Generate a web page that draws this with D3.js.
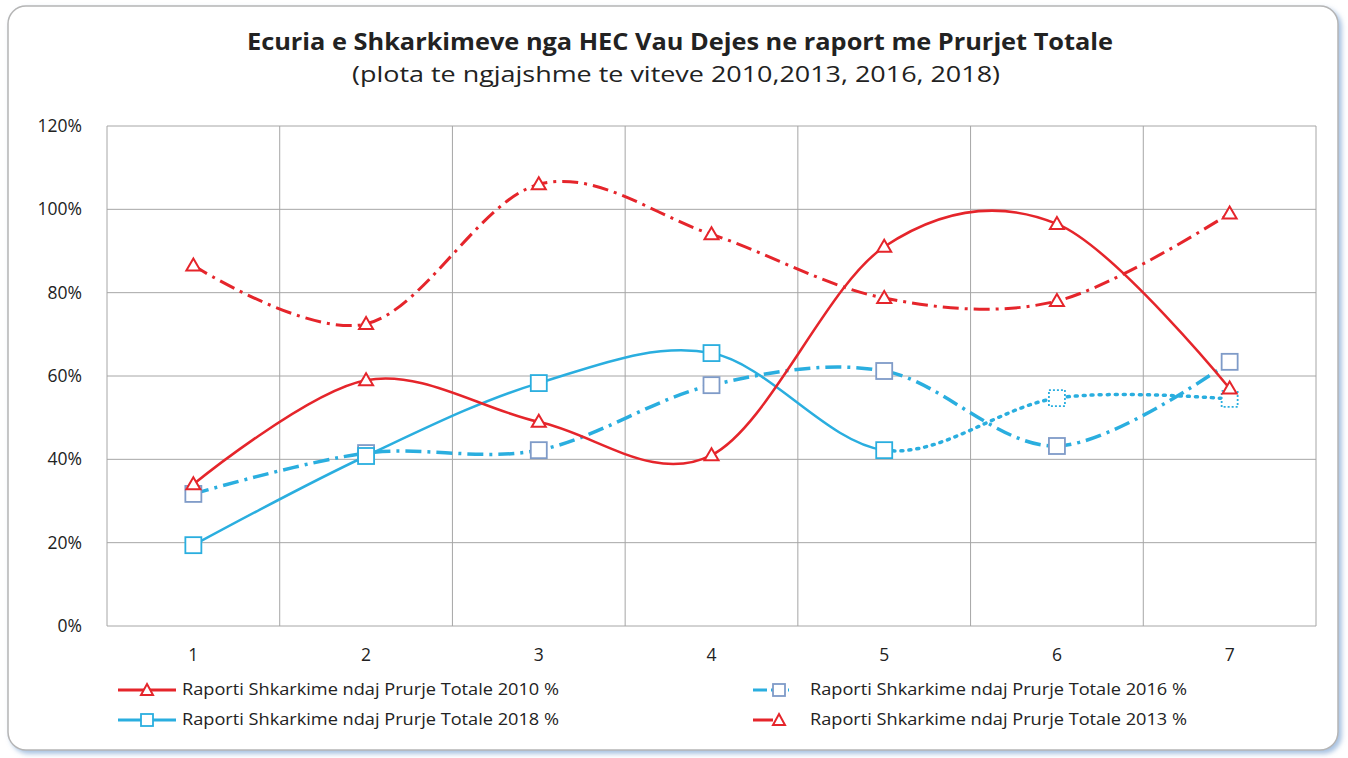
<!DOCTYPE html>
<html>
<head>
<meta charset="utf-8">
<script src="https://cdn.jsdelivr.net/npm/d3@7"></script>
<style>
  body { margin: 0; background: #fff; }
  #my_dataviz { width: 1348px; height: 758px; }
  text { font-family: "Open Sans", "Noto Sans", sans-serif; fill: #222; }
</style>
</head>
<body>
<div id="my_dataviz"></div>
<script>
// data
const categories = [1, 2, 3, 4, 5, 6, 7];
const s2010 = [0.34, 0.59, 0.49, 0.41, 0.91, 0.965, 0.57];
const s2013 = [0.865, 0.725, 1.06, 0.94, 0.787, 0.78, 0.99];
const s2016 = [0.317, 0.415, 0.422, 0.578, 0.612, 0.432, 0.634];
const s2018 = [0.194, 0.408, 0.583, 0.655, 0.422, 0.547, 0.545];
const yTicks = [0, 0.2, 0.4, 0.6, 0.8, 1.0, 1.2];

const titleText = "Ecuria e Shkarkimeve nga HEC Vau Dejes ne raport me Prurjet Totale";
const subText = "(plota te ngjajshme te viteve 2010,2013, 2016, 2018)";

const red = "#E5252B", blue = "#2AAEDF", grayBlue = "#7F9BC8";

const W = 1348, H = 758;
const margin = { top: 126, right: 32, bottom: 132, left: 107 },
    width = W - margin.left - margin.right,
    height = H - margin.top - margin.bottom;

const svg = d3.select("#my_dataviz").append("svg")
    .attr("width", W).attr("height", H);

// frame with shadow
const defs = svg.append("defs");
const f = defs.append("filter").attr("id", "shadow").attr("x", "-5%").attr("y", "-5%").attr("width", "110%").attr("height", "110%");
f.append("feDropShadow").attr("dx", 3).attr("dy", 3).attr("stdDeviation", 2.5).attr("flood-color", "#8fb0d8").attr("flood-opacity", 0.8);
svg.append("rect").attr("x", 8).attr("y", 6).attr("width", 1330).attr("height", 744)
    .attr("rx", 18).attr("fill", "#fff").attr("stroke", "#b5b5b5").attr("stroke-width", 1.5)
    .attr("filter", "url(#shadow)");

svg.append("text").attr("x", 680).attr("y", 50).attr("text-anchor", "middle")
    .attr("textLength", 866).attr("lengthAdjust", "spacingAndGlyphs")
    .style("font-size", "24px").style("font-weight", "bold").text(titleText);
svg.append("text").attr("x", 676).attr("y", 82).attr("text-anchor", "middle")
    .attr("textLength", 648).attr("lengthAdjust", "spacingAndGlyphs")
    .style("font-size", "22px").text(subText);

const g = svg.append("g").attr("transform", `translate(${margin.left},${margin.top})`);

const x = d3.scaleBand().domain(categories).range([0, width]);
const xc = d => x(d) + x.bandwidth() / 2;
const y = d3.scaleLinear().domain([0, 1.2]).range([height, 0]);

// grid
g.selectAll(".hgrid").data(yTicks).join("line")
    .attr("x1", 0).attr("x2", width).attr("y1", d => y(d)).attr("y2", d => y(d))
    .attr("stroke", "#a6a6a6").attr("stroke-width", 1);
const vLines = categories.map(c => x(c)).concat([width]);
g.selectAll(".vgrid").data(vLines).join("line")
    .attr("x1", d => d).attr("x2", d => d).attr("y1", 0).attr("y2", height)
    .attr("stroke", "#a6a6a6").attr("stroke-width", 1);

// axes labels
g.selectAll(".ylab").data(yTicks).join("text")
    .attr("x", -25).attr("y", d => y(d) + 6).attr("text-anchor", "end")
    .style("font-size", "17.5px").text(d3.format(".0%"));
g.selectAll(".xlab").data(categories).join("text")
    .attr("x", d => xc(d)).attr("y", height + 35).attr("text-anchor", "middle")
    .style("font-size", "17.5px").text(d => d);

const line = d3.line().x((d, i) => xc(categories[i])).y(d => y(d)).curve(d3.curveCatmullRom.alpha(0));
const dashDot = "16,6,3,6";

// clip paths to split 2018 into solid / dotted
defs.append("clipPath").attr("id", "leftClip").append("rect")
    .attr("x", -20).attr("y", -50).attr("width", xc(5) + 20).attr("height", height + 100);
defs.append("clipPath").attr("id", "rightClip").append("rect")
    .attr("x", xc(5)).attr("y", -50).attr("width", width).attr("height", height + 100);

function triangle(sel, data, color) {
    sel.selectAll(null).data(data).join("path")
        .attr("transform", (d, i) => `translate(${xc(categories[i])},${y(d)})`)
        .attr("d", "M0,-7 L7,5 L-7,5 Z")
        .attr("fill", "#fff").attr("stroke", color).attr("stroke-width", 2);
}
function square(sel, data, color, dashFrom) {
    sel.selectAll(null).data(data).join("rect")
        .attr("x", (d, i) => xc(categories[i]) - 8).attr("y", d => y(d) - 8)
        .attr("width", 16).attr("height", 16)
        .attr("fill", "#fff").attr("stroke", color).attr("stroke-width", 1.8)
        .attr("stroke-dasharray", (d, i) => dashFrom != null && i >= dashFrom ? "2,2" : null);
}

// 2016
g.append("path").datum(s2016).attr("d", line).attr("fill", "none")
    .attr("stroke", blue).attr("stroke-width", 3.5).attr("stroke-dasharray", dashDot);
// 2018
g.append("path").datum(s2018).attr("d", line).attr("fill", "none").attr("clip-path", "url(#leftClip)")
    .attr("stroke", blue).attr("stroke-width", 2.5);
g.append("path").datum(s2018).attr("d", line).attr("fill", "none").attr("clip-path", "url(#rightClip)")
    .attr("stroke", blue).attr("stroke-width", 3.5).attr("stroke-dasharray", "2,6").attr("stroke-linecap", "round");
// 2013
g.append("path").datum(s2013).attr("d", line).attr("fill", "none")
    .attr("stroke", red).attr("stroke-width", 3).attr("stroke-dasharray", dashDot);
// 2010
g.append("path").datum(s2010).attr("d", line).attr("fill", "none")
    .attr("stroke", red).attr("stroke-width", 2.5);

const mk = g.append("g");
square(mk.append("g"), s2016, grayBlue, null);
square(mk.append("g"), s2018, blue, 5);
triangle(mk.append("g"), s2013, red);
triangle(mk.append("g"), s2010, red);

// legend
const legend = [
    { label: "Raporti Shkarkime ndaj Prurje Totale 2010 %", color: red, dash: null, mark: "tri", x: 118, y: 690, w: 58 },
    { label: "Raporti Shkarkime ndaj Prurje Totale 2018 %", color: blue, dash: null, mark: "sq", x: 118, y: 720, w: 58 },
    { label: "Raporti Shkarkime ndaj Prurje Totale 2016 %", color: blue, dash: "14,4,3", mark: "sq2", x: 753, y: 690, w: 36 },
    { label: "Raporti Shkarkime ndaj Prurje Totale 2013 %", color: red, dash: "20,6,3", mark: "tri", x: 753, y: 720, w: 36 }
];
legend.forEach(l => {
    const lg = svg.append("g");
    lg.append("line").attr("x1", l.x).attr("x2", l.x + l.w).attr("y1", l.y).attr("y2", l.y)
        .attr("stroke", l.color).attr("stroke-width", 3).attr("stroke-dasharray", l.dash);
    const mx = l.w > 40 ? l.x + l.w / 2 : l.x + 26;
    if (l.mark === "tri") {
        lg.append("path").attr("transform", `translate(${mx},${l.y})`).attr("d", "M0,-6 L6,5 L-6,5 Z")
            .attr("fill", "#fff").attr("stroke", l.color).attr("stroke-width", 2);
    } else {
        lg.append("rect").attr("x", mx - 6).attr("y", l.y - 6).attr("width", 12).attr("height", 12)
            .attr("fill", "#fff").attr("stroke", l.mark === "sq2" ? grayBlue : l.color).attr("stroke-width", 1.8);
    }
    lg.append("text").attr("x", l.w > 40 ? l.x + l.w + 6 : l.x + 57).attr("y", l.y + 5)
        .attr("textLength", 377).attr("lengthAdjust", "spacingAndGlyphs")
        .style("font-size", "16px").text(l.label);
});
</script>
</body>
</html>
